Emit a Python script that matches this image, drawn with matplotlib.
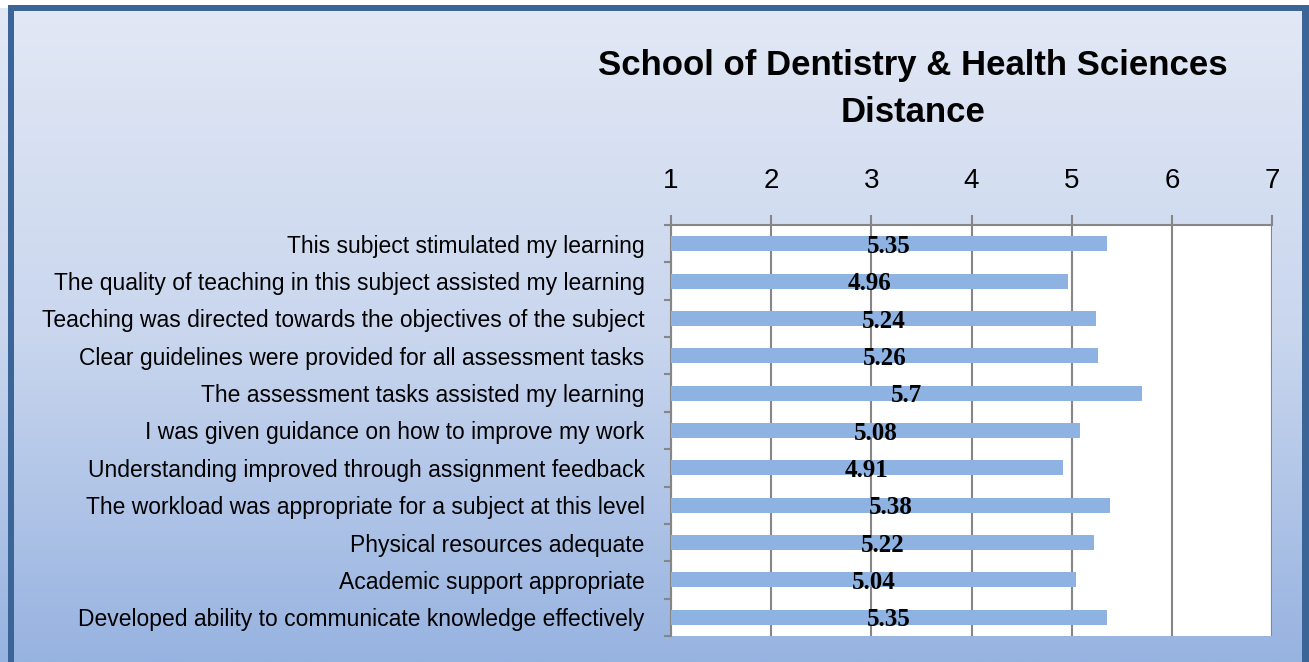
import matplotlib
matplotlib.use("Agg")
import matplotlib.pyplot as plt
import numpy as np
from matplotlib.patches import Rectangle
from matplotlib.colors import LinearSegmentedColormap

categories = [
    "This subject stimulated my learning",
    "The quality of teaching in this subject assisted my learning",
    "Teaching was directed towards the objectives of the subject",
    "Clear guidelines were provided for all assessment tasks",
    "The assessment tasks assisted my learning",
    "I was given guidance on how to improve my work",
    "Understanding improved through assignment feedback",
    "The workload was appropriate for a subject at this level",
    "Physical resources adequate",
    "Academic support appropriate",
    "Developed ability to communicate knowledge effectively",
]
values = [5.35, 4.96, 5.24, 5.26, 5.7, 5.08, 4.91, 5.38, 5.22, 5.04, 5.35]
value_labels = ["5.35", "4.96", "5.24", "5.26", "5.7", "5.08", "4.91", "5.38", "5.22", "5.04", "5.35"]
x_ticks = [1, 2, 3, 4, 5, 6, 7]
title = "School of Dentistry & Health Sciences\nDistance"

W, H = 1309, 662
fig = plt.figure(figsize=(W / 100, H / 100), dpi=100)
fig.patch.set_facecolor("white")

sans = ["Liberation Sans", "DejaVu Sans"]

# gradient background
bg = fig.add_axes([0, 0, 1, 1], zorder=-10)
cmap = LinearSegmentedColormap.from_list("g", ["#E2E8F5", "#C9D6EE", "#97B3E0"])
grad = np.linspace(0, 1, 256).reshape(-1, 1)
bg.imshow(grad, aspect="auto", cmap=cmap, extent=[0, 1, 0, 1 - 8 / H], origin="upper")
bg.set_xlim(0, 1)
bg.set_ylim(0, 1)
bg.axis("off")
border = "#3A6596"
bg.add_patch(Rectangle((8 / W, 0), 6 / W, 1 - 5 / H, color=border, lw=0))
bg.add_patch(Rectangle((8 / W, 1 - 11 / H), (1309 - 8) / W, 6 / H, color=border, lw=0))
bg.add_patch(Rectangle((1302 / W, 0), 7 / W, 1 - 5 / H, color=border, lw=0))

ax = fig.add_axes([671 / W, 1 - 636 / H, (1272 - 671) / W, (636 - 225) / H])
ax.set_facecolor("white")
y = np.arange(len(categories))
ax.barh(y, values, height=0.4, color="#8EB3E3", zorder=3)
ax.set_xlim(1, 7)
ax.set_ylim(len(categories) - 0.5, -0.5)

for yi, v, lab in zip(y, values, value_labels):
    ax.text((1 + v) / 2, yi + 0.07, lab, ha="center", va="center",
            fontsize=18, fontweight="bold", family=["Liberation Serif", "DejaVu Serif"],
            zorder=4)

ax.xaxis.tick_top()
ax.set_xticks(x_ticks)
ax.set_xticklabels([str(t) for t in x_ticks])
ax.tick_params(axis="x", which="major", length=7, width=1.5, color="#868686",
               pad=15, labelsize=20)
for lab in ax.get_xticklabels():
    lab.set_family(sans)
ax.grid(axis="x", color="#868686", linewidth=1.5, zorder=1)

ax.set_yticks(np.arange(len(categories) + 1) - 0.5)
ax.set_yticklabels([])
ax.set_yticks(y, minor=True)
ax.set_yticklabels(categories, minor=True)
ax.tick_params(axis="y", which="major", length=5, width=1.5, color="#868686")
ax.tick_params(axis="y", which="minor", length=0, pad=19, labelsize=16.5)
for lab in ax.get_yticklabels(minor=True):
    lab.set_family(sans)

for s in ["bottom", "right"]:
    ax.spines[s].set_visible(False)
for s in ["top", "left"]:
    ax.spines[s].set_color("#868686")
    ax.spines[s].set_linewidth(1.5)

fig.text(913 / W, 1 - 89 / H, title, ha="center", va="center", fontsize=25,
         fontweight="bold", family=sans, linespacing=1.5)

fig.savefig("out.png", dpi=100)
